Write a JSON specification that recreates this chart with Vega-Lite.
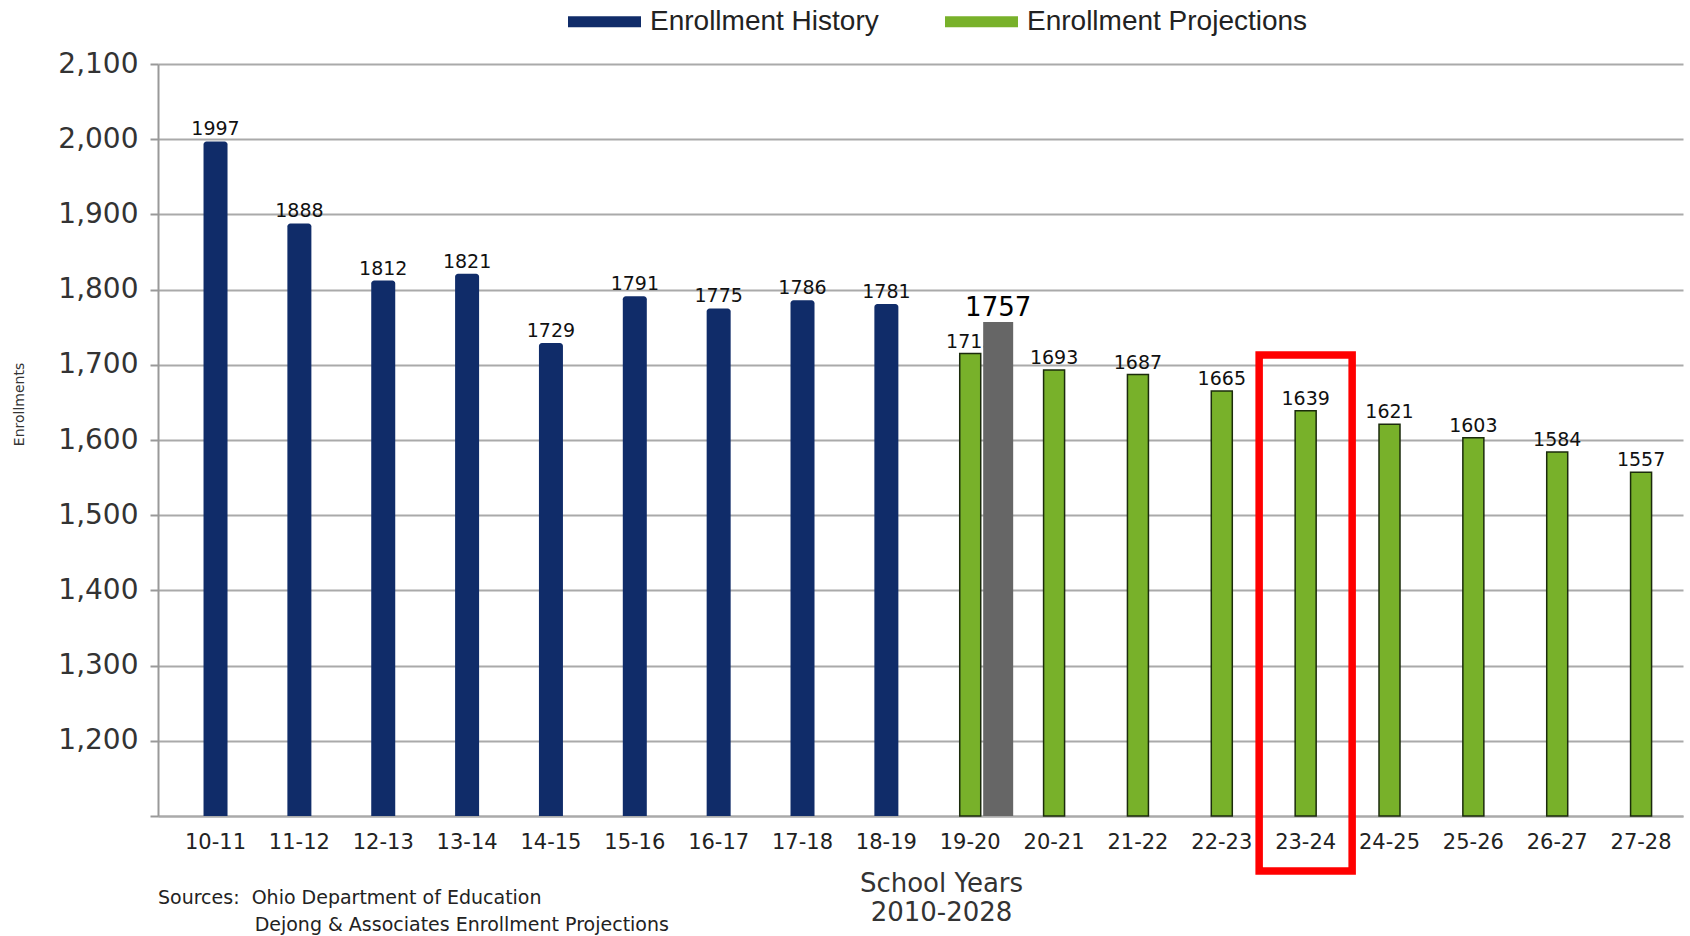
{
  "$schema": "https://vega.github.io/schema/vega-lite/v6.json",
  "width": 1525,
  "height": 752,
  "autosize": "none",
  "padding": {"left": 158, "top": 64, "right": 7, "bottom": 120},
  "background": "white",
  "config": {"view": {"stroke": null}, "font": "DejaVu Sans"},
  "datasets": {
    "main": [
      {"year": "10-11", "value": 1997, "type": "Enrollment History"},
      {"year": "11-12", "value": 1888, "type": "Enrollment History"},
      {"year": "12-13", "value": 1812, "type": "Enrollment History"},
      {"year": "13-14", "value": 1821, "type": "Enrollment History"},
      {"year": "14-15", "value": 1729, "type": "Enrollment History"},
      {"year": "15-16", "value": 1791, "type": "Enrollment History"},
      {"year": "16-17", "value": 1775, "type": "Enrollment History"},
      {"year": "17-18", "value": 1786, "type": "Enrollment History"},
      {"year": "18-19", "value": 1781, "type": "Enrollment History"},
      {"year": "19-20", "value": 1715, "type": "Enrollment Projections"},
      {"year": "20-21", "value": 1693, "type": "Enrollment Projections"},
      {"year": "21-22", "value": 1687, "type": "Enrollment Projections"},
      {"year": "22-23", "value": 1665, "type": "Enrollment Projections"},
      {"year": "23-24", "value": 1639, "type": "Enrollment Projections"},
      {"year": "24-25", "value": 1621, "type": "Enrollment Projections"},
      {"year": "25-26", "value": 1603, "type": "Enrollment Projections"},
      {"year": "26-27", "value": 1584, "type": "Enrollment Projections"},
      {"year": "27-28", "value": 1557, "type": "Enrollment Projections"}
    ],
    "actual": [{"year": "19-20", "value": 1757, "slot": "r"}],
    "highlight": [{"year": "23-24", "top": 1713, "bottom": 1027}]
  },
  "title": {
    "text": ["Sources:\u00a0\u00a0Ohio Department of Education", "\u200b\u00a0\u00a0\u00a0\u00a0\u00a0\u00a0\u00a0\u00a0\u00a0\u00a0\u00a0\u00a0\u00a0\u00a0\u00a0\u00a0Dejong & Associates Enrollment Projections"],
    "orient": "bottom",
    "anchor": "start",
    "frame": "group",
    "fontSize": 19,
    "fontWeight": "normal",
    "color": "#222222",
    "offset": -36,
    "lineHeight": 27
  },
  "encoding": {
    "x": {
      "field": "year",
      "type": "nominal",
      "sort": null,
      "scale": {
        "domain": ["10-11","11-12","12-13","13-14","14-15","15-16","16-17","17-18","18-19","19-20","20-21","21-22","22-23","23-24","24-25","25-26","26-27","27-28"],
        "paddingInner": 0,
        "paddingOuter": 0.093,
        "align": 1
      },
      "axis": {
        "labelAngle": 0,
        "labelFontSize": 21,
        "labelColor": "#222222",
        "labelPadding": 15,
        "ticks": false,
        "domainColor": "#aaaaaa",
        "domainWidth": 2,
        "title": ["School Years", "2010-2028"],
        "titleFontSize": 26,
        "titleFontWeight": "normal",
        "titleColor": "#333333",
        "titleLineHeight": 29,
        "titlePadding": 18,
        "titleX": 783
      }
    }
  },
  "layer": [
    {
      "data": {"name": "main"},
      "transform": [{"filter": "datum.type == 'Enrollment History'"}],
      "mark": {"type": "bar", "width": 24, "cornerRadiusTopLeft": 3, "cornerRadiusTopRight": 3},
      "encoding": {
        "y": {
          "field": "value",
          "type": "quantitative",
          "scale": {"domain": [1100, 2100], "zero": false, "nice": false},
          "axis": {
            "values": [1100,1200,1300,1400,1500,1600,1700,1800,1900,2000,2100],
            "labelExpr": "datum.value < 1150 ? '' : datum.label",
            "labelFontSize": 28,
            "labelColor": "#333333",
            "labelPadding": 12,
            "tickSize": 8,
            "tickColor": "#999999",
            "tickWidth": 2,
            "domainColor": "#999999",
            "domainWidth": 2,
            "grid": true,
            "gridColor": "#aaaaaa",
            "gridWidth": 2,
            "title": "Enrollments",
            "titleFontSize": 14,
            "titleFontWeight": "normal",
            "titleColor": "#333333",
            "titleX": -139,
            "titleY": 340,
            "titleAlign": "center",
            "titleBaseline": "middle"
          }
        },
        "y2": {"datum": 1100},
        "color": {
          "field": "type",
          "type": "nominal",
          "scale": {"domain": ["Enrollment History", "Enrollment Projections"], "range": ["#102c69", "#78b12a"]},
          "legend": {
            "orient": "none",
            "legendX": 410,
            "legendY": -79,
            "direction": "horizontal",
            "title": null,
            "symbolType": "M-1,-0.15H1V0.15H-1Z",
            "symbolSize": 5329,
            "symbolStrokeWidth": 0,
            "labelFont": "Liberation Sans",
            "labelFontSize": 28,
            "labelLimit": 0,
            "labelColor": "#222222",
            "labelOffset": 9,
            "columnPadding": 66
          }
        }
      }
    },
    {
      "data": {"name": "main"},
      "transform": [{"filter": "datum.type == 'Enrollment Projections'"}],
      "mark": {"type": "bar", "width": 21, "stroke": "#1b2b0c", "strokeWidth": 1.5},
      "encoding": {
        "y": {"field": "value", "type": "quantitative"},
        "y2": {"datum": 1100},
        "color": {"field": "type", "type": "nominal"}
      }
    },
    {
      "data": {"name": "main"},
      "mark": {"type": "text", "dy": -6, "fontSize": 19, "color": "#111111", "baseline": "alphabetic"},
      "encoding": {
        "y": {"field": "value", "type": "quantitative"},
        "text": {"field": "value", "type": "quantitative", "format": "d"}
      }
    },
    {
      "data": {"name": "actual"},
      "mark": {"type": "bar", "width": 30, "color": "#666666"},
      "encoding": {
        "xOffset": {"field": "slot", "type": "nominal", "scale": {"domain": ["l", "c", "r"], "paddingInner": 0, "paddingOuter": 0}},
        "y": {"field": "value", "type": "quantitative"},
        "y2": {"datum": 1100}
      }
    },
    {
      "data": {"name": "actual"},
      "mark": {"type": "text", "dy": -6, "fontSize": 26, "color": "#000000", "baseline": "alphabetic"},
      "encoding": {
        "xOffset": {"field": "slot", "type": "nominal", "scale": {"domain": ["l", "c", "r"], "paddingInner": 0, "paddingOuter": 0}},
        "y": {"field": "value", "type": "quantitative"},
        "text": {"field": "value", "type": "quantitative", "format": "d"}
      }
    },
    {
      "data": {"name": "highlight"},
      "mark": {"type": "bar", "width": 93, "fillOpacity": 0, "stroke": "#ff0000", "strokeWidth": 7.5},
      "encoding": {
        "y": {"field": "top", "type": "quantitative"},
        "y2": {"field": "bottom"}
      }
    }
  ]
}
